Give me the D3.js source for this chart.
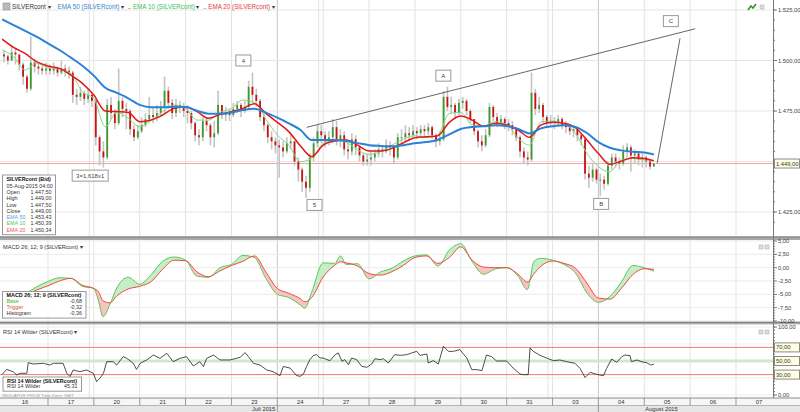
<!DOCTYPE html>
<html>
<head>
<meta charset="utf-8">
<script src="https://cdn.jsdelivr.net/npm/d3@7"></script>
<style>
  body { margin: 0; background: #fff; }
  svg text { font-family: "Liberation Sans", Arial, sans-serif; }
</style>
</head>
<body>
<div id="chart"></div>
<script>
// trading days on the time axis, Jul 16 - Aug 7 2015
const dayLabels = ["16","17","20","21","22","23","24","27","28","29","30","31","03","04","05","06","07"];
const weekStarts = [2, 7, 12];   // Mondays
const markerDays = [6, 13];

// 2-hour bars, 12 per day (last day: 00:00, 02:00, 04:00)
const barsPerDay = 12;
const firstOpen = 1503;
const closes = [
  1502, 1500, 1504, 1503, 1498, 1492, 1486, 1499, 1497, 1496, 1495, 1496,
  1495, 1496, 1494, 1496, 1495, 1494, 1483, 1482, 1484, 1481, 1483, 1480,
  1462, 1455, 1452, 1478, 1474, 1469, 1480, 1476, 1475, 1466, 1462, 1465,
  1468, 1471, 1473, 1472, 1474, 1477, 1485, 1479, 1474, 1478, 1477, 1475,
  1474, 1469, 1463, 1462, 1470, 1468, 1462, 1464, 1478, 1473, 1474, 1473,
  1476, 1478, 1475, 1477, 1487, 1483, 1480, 1472, 1468, 1462, 1460, 1458,
  1457, 1455, 1459, 1460, 1450, 1446, 1440, 1437, 1452, 1459, 1465, 1463,
  1460, 1462, 1467, 1460, 1463, 1456, 1455, 1461, 1457, 1453, 1450, 1451,
  1452, 1454, 1456, 1455, 1458, 1457, 1452, 1462, 1462, 1464, 1463, 1465,
  1464, 1466, 1465, 1467, 1463, 1460, 1461, 1482, 1477, 1478, 1474, 1479,
  1480, 1475, 1471, 1465, 1460, 1458, 1463, 1477, 1472, 1469, 1471, 1469,
  1468, 1466, 1462, 1455, 1452, 1451, 1484, 1476, 1478, 1472, 1469, 1470,
  1469, 1471, 1468, 1467, 1465, 1466, 1463, 1461, 1444, 1442, 1446, 1441,
  1441, 1439, 1448, 1452, 1450, 1449, 1455, 1457, 1453, 1454, 1451, 1452,
  1450, 1447.5, 1449
];
const highs = [
  1505, 1503, 1507, 1506, 1503, 1499, 1493, 1512, 1501, 1499, 1498, 1499,
  1498, 1499, 1497, 1500, 1498, 1497, 1495, 1486, 1487, 1485, 1486, 1484,
  1481, 1463, 1460, 1481, 1482, 1476, 1496, 1482, 1479, 1476, 1468, 1468,
  1472, 1474, 1482, 1477, 1478, 1480, 1492, 1487, 1481, 1481, 1480, 1479,
  1478, 1475, 1470, 1466, 1472, 1471, 1469, 1470, 1485, 1478, 1477, 1476,
  1479, 1480, 1479, 1480, 1490, 1494, 1486, 1481, 1474, 1469, 1465, 1462,
  1461, 1460, 1462, 1463, 1460, 1452, 1447, 1443, 1454, 1462, 1468, 1468,
  1465, 1465, 1471, 1470, 1466, 1465, 1459, 1464, 1463, 1458, 1454, 1454,
  1455, 1456, 1459, 1458, 1461, 1460, 1457, 1464, 1466, 1468, 1467, 1468,
  1467, 1468, 1468, 1469, 1468, 1464, 1465, 1485, 1487, 1482, 1479, 1481,
  1482, 1481, 1476, 1471, 1466, 1463, 1466, 1479, 1478, 1474, 1473, 1472,
  1471, 1470, 1467, 1463, 1457, 1455, 1494, 1486, 1482, 1479, 1473, 1473,
  1472, 1473, 1472, 1470, 1468, 1468, 1467, 1464, 1462, 1448, 1449, 1447,
  1444, 1443, 1450, 1454, 1454, 1452, 1458, 1459, 1458, 1456, 1455, 1454,
  1453, 1451, 1449
];
const lows = [
  1499, 1498, 1500, 1498, 1495, 1488, 1484, 1485, 1494, 1493, 1493, 1493,
  1493, 1493, 1492, 1493, 1492, 1491, 1479, 1478, 1480, 1478, 1479, 1477,
  1458, 1448, 1447, 1451, 1471, 1466, 1468, 1472, 1466, 1463, 1460, 1461,
  1464, 1467, 1469, 1469, 1470, 1472, 1474, 1476, 1471, 1472, 1474, 1472,
  1469, 1466, 1460, 1458, 1460, 1465, 1458, 1457, 1463, 1471, 1470, 1470,
  1472, 1474, 1472, 1474, 1476, 1479, 1477, 1470, 1465, 1459, 1456, 1454,
  1442, 1452, 1454, 1456, 1448, 1440, 1435, 1432, 1435, 1450, 1457, 1459,
  1457, 1458, 1459, 1458, 1457, 1453, 1451, 1453, 1453, 1450, 1448, 1448,
  1448, 1450, 1452, 1452, 1454, 1453, 1449, 1451, 1459, 1460, 1460, 1461,
  1461, 1462, 1462, 1463, 1461, 1457, 1458, 1460, 1475, 1474, 1471, 1473,
  1476, 1473, 1469, 1463, 1457, 1455, 1457, 1462, 1470, 1467, 1468, 1466,
  1465, 1463, 1460, 1452, 1449, 1448, 1450, 1473, 1474, 1469, 1467, 1467,
  1466, 1467, 1466, 1464, 1463, 1462, 1460, 1458, 1441, 1437, 1440, 1439,
  1433, 1436, 1438, 1446, 1447, 1446, 1448, 1452, 1445, 1449, 1448, 1447,
  1447, 1446, 1447.5
];

// moving averages read every 6 hours (day index), last point = last bar
const emaTimes = [
  0, 0.25, 0.5, 0.75, 1, 1.25, 1.5, 1.75, 2, 2.25, 2.5, 2.75, 3, 3.25, 3.5, 3.75,
  4, 4.25, 4.5, 4.75, 5, 5.25, 5.5, 5.75, 6, 6.25, 6.5, 6.75, 7, 7.25, 7.5, 7.75,
  8, 8.25, 8.5, 8.75, 9, 9.25, 9.5, 9.75, 10, 10.25, 10.5, 10.75, 11, 11.25, 11.5, 11.75,
  12, 12.25, 12.5, 12.75, 13, 13.25, 13.5, 13.75, 14, 14.21
];
const ema50 = [
  1520.4, 1517.5, 1514.7, 1511.8, 1508.5, 1505.2, 1501.4, 1497.4, 1492.5, 1486.5, 1484.0, 1481.3,
  1478.0, 1476.8, 1476.8, 1477.1, 1477.0, 1475.1, 1473.7, 1473.7, 1474.3, 1475.5, 1476.1, 1474.2,
  1471.7, 1468.9, 1465.7, 1460.6, 1460.6, 1460.6, 1460.1, 1459.1, 1458.1, 1457.7, 1457.5, 1458.1,
  1459.0, 1459.6, 1460.8, 1463.4, 1466.1, 1467.1, 1467.4, 1467.9, 1467.6, 1466.1, 1463.9, 1466.4,
  1467.4, 1467.9, 1467.1, 1464.1, 1459.6, 1456.8, 1455.5, 1454.8, 1454.5, 1453.43
];
const ema20 = [
  1510.6, 1506.5, 1503.5, 1499.4, 1497.3, 1496.1, 1492.8, 1488.7, 1482.9, 1475.0, 1474.7, 1474.3,
  1469.7, 1470.5, 1473.0, 1476.3, 1477.0, 1474.7, 1471.4, 1473.3, 1474.7, 1476.3, 1478.6, 1473.8,
  1469.4, 1464.8, 1457.8, 1452.4, 1458.1, 1460.1, 1460.6, 1458.1, 1455.2, 1455.2, 1456.5, 1459.3,
  1461.8, 1462.3, 1462.8, 1469.4, 1472.5, 1470.5, 1467.4, 1468.9, 1468.1, 1465.6, 1462.0, 1468.1,
  1469.4, 1468.9, 1466.7, 1460.6, 1454.0, 1448.6, 1450.2, 1451.9, 1451.5, 1450.34
];
const ema10 = [
  1505.2, 1501.9, 1495.3, 1498.6, 1496.4, 1495.8, 1493.6, 1484.5, 1481.2, 1467.2, 1474.3, 1471.4,
  1467.2, 1470.5, 1474.6, 1478.0, 1476.3, 1470.5, 1470.5, 1474.3, 1476.3, 1480.4, 1479.3, 1471.0,
  1463.1, 1458.1, 1449.9, 1451.5, 1459.0, 1460.6, 1459.5, 1455.7, 1453.5, 1454.9, 1458.1, 1461.1,
  1462.8, 1461.8, 1463.1, 1473.8, 1474.3, 1468.1, 1467.7, 1469.7, 1468.4, 1461.5, 1458.1, 1469.7,
  1470.0, 1468.7, 1463.9, 1454.0, 1447.4, 1444.9, 1450.7, 1451.5, 1450.7, 1450.39
];

// MACD 26;12;9
const macdTimes = [
  0, 0.25, 0.5, 0.75, 1, 1.25, 1.5, 1.75, 2, 2.1, 2.2, 2.35, 2.5, 2.75, 3, 3.25, 3.5, 3.75,
  4, 4.25, 4.5, 4.75, 5, 5.25, 5.5, 5.75, 6, 6.25, 6.5, 6.6, 6.75, 7, 7.25, 7.375, 7.5, 7.75,
  8, 8.25, 8.5, 8.75, 9, 9.25, 9.5, 9.75, 10, 10.25, 10.5, 10.75, 11, 11.25, 11.45, 11.6, 11.75,
  12, 12.25, 12.5, 12.75, 13, 13.25, 13.5, 13.75, 14, 14.21
];
const macdBase = [
  -6.8, -6.2, -5.0, -3.6, -2.6, -1.9, -2.0, -3.5, -3.9, -6.2, -9.2, -6.9, -3.8, -1.8, -3.1, -1.3, 1.2, 2.0,
  1.4, -1.6, -1.8, 0.0, 0.6, 2.3, 1.9, -2.0, -5.0, -5.6, -7.0, -7.6, -4.6, 0.9, 0.8, 2.2, 0.6, 0.75,
  -2.1, -0.8, -0.1, 1.25, 2.2, 2.4, 0.3, 3.3, 4.5, 1.1, -1.25, -0.25, 0.0, -1.6, -4.1, 1.25, 1.75,
  1.4, 0.6, -1.0, -4.75, -6.5, -5.4, -2.7, 0.4, 0.0, -0.68
];
const macdTrigger = [
  -6.3, -6.0, -5.2, -4.2, -3.4, -2.5, -2.0, -3.3, -3.9, -4.5, -6.2, -6.6, -5.3, -4.0, -3.5, -2.6, -0.3, 1.4,
  1.3, -0.8, -1.7, -0.6, 0.4, 1.2, 2.2, -0.8, -3.9, -4.8, -5.8, -6.4, -5.6, -1.75, 0.44, 1.1, 0.9, 0.3,
  -1.1, -1.4, -0.75, 0.44, 1.9, 2.2, 0.8, 1.9, 3.9, 1.4, 0.1, 0.0, 0.0, -1.25, -2.7, -1.1, 0.3,
  1.25, 0.8, -0.1, -2.9, -5.7, -5.9, -3.9, -1.3, -0.2, -0.32
];

// RSI 14 Wilder
const rsiTimes = [
  0, 0.1, 0.24, 0.32, 0.39, 0.54, 0.57, 0.68, 0.9, 1.04, 1.12, 1.33, 1.41, 1.48, 1.55, 1.7, 1.84, 1.99,
  2.06, 2.13, 2.21, 2.28, 2.42, 2.5, 2.64, 2.72, 2.86, 2.93, 3.01, 3.15, 3.3, 3.44, 3.59, 3.73, 3.88,
  4.02, 4.17, 4.31, 4.39, 4.46, 4.61, 4.75, 4.97, 5.19, 5.3, 5.37, 5.48, 5.62, 5.77, 5.91, 6.06, 6.13,
  6.28, 6.42, 6.5, 6.57, 6.64, 6.71, 6.79, 6.86, 6.93, 7.0, 7.08, 7.15, 7.26, 7.33, 7.41, 7.47, 7.55,
  7.62, 7.73, 7.84, 7.95, 8.06, 8.13, 8.24, 8.31, 8.42, 8.56, 8.68, 8.82, 8.93, 9.04, 9.11, 9.26, 9.29,
  9.4, 9.51, 9.62, 9.73, 9.84, 9.98, 10.13, 10.24, 10.35, 10.46, 10.56, 10.67, 10.78, 11.0, 11.14,
  11.29, 11.36, 11.47, 11.51, 11.58, 11.73, 11.87, 12.02, 12.16, 12.31, 12.49, 12.6, 12.71, 12.82,
  12.96, 13.11, 13.18, 13.29, 13.4, 13.51, 13.58, 13.69, 13.72, 13.84, 13.94, 14.05, 14.14, 14.21
];
const rsiValues = [
  30, 37.7, 34.3, 29.4, 31.9, 31.9, 47.5, 45.6, 46.6, 44.1, 46.6, 46.6, 32, 27, 36.8, 34.3, 36.8, 31.9,
  19.6, 24.5, 31.9, 49, 49, 44.1, 56.4, 53.9, 46.6, 37.7, 46.6, 51.5, 58.8, 53.9, 61.3, 49, 53.9,
  56.4, 42.6, 49, 41.7, 53.9, 58.8, 51.5, 51.5, 55.4, 62.3, 56.4, 46.6, 44.1, 36.8, 34.3, 28.5, 42,
  39.5, 28.5, 27.5, 30.9, 42.2, 52, 58.3, 59.3, 54.4, 54.4, 52, 50.5, 59.3, 61.8, 49.5, 52, 44.6,
  54.4, 52, 42.2, 40.7, 45.6, 53.4, 52, 53.4, 47.1, 59.3, 58.3, 59.3, 61.8, 64.2, 58.3, 60.3, 47.1,
  50.5, 45.6, 71.6, 64.2, 64.2, 66.7, 54.4, 37.3, 37.3, 35.8, 58.8, 56.4, 50, 50, 39.7,
  30.9, 29.9, 29.9, 69.1, 64.2, 58.3, 54.4, 50.5, 51.5, 49, 46.6, 39.2, 25.7, 33.3,
  30.4, 28.4, 39.2, 52.9, 48, 56.4, 58.8, 57.8, 49, 51.5, 49, 47.5, 44.1, 45.31
];

// axis ticks (labels hidden under the value boxes are left out)
const priceTicks = [1425, 1450, 1475, 1500, 1525];
const priceLabels = [1425, 1475, 1500, 1525];
const macdTicks = [-10, -7.5, -5, -2.5, 0, 2.5, 5];
const rsiTicks = [0, 25, 75, 100];
const rsiLabels = [0, 100];
const rsiLevels = [70, 50, 30];
const lastPrice = 1449;

// wave annotations: [day index, price, label]
const waveLabels = [[5.26, 1500, "4"], [1.92, 1443, "3=1,618x1"], [6.81, 1428.5, "5"],
                    [9.62, 1492.5, "A"], [13.06, 1429, "B"], [14.58, 1519.5, "C"]];
const trendLine = [[6.64, 1466.9], [15.11, 1515.7]];
const targetLine = [[14.28, 1449.1], [14.78, 1511]];

const W = 800, H = 412, plotRight = 773;
const fmt = d3.formatLocale({decimal: ",", thousands: ".", grouping: [3], currency: ["", ""], minus: "-"}).format(",.2f");

const svg = d3.select("#chart").append("svg").attr("width", W).attr("height", H);

const x = d3.scaleLinear().domain([0, 16.8]).range([2.1, 772.7]);
const yPrice = d3.scaleLinear().domain([1425, 1525]).range([212, 10]);
const yMacd = d3.scaleLinear().domain([-10, 5]).range([321, 241]);
const yRsi = d3.scaleLinear().domain([0, 100]).range([395, 327]);

const defs = svg.append("defs");
function clipRect(id, y0, y1) {
  defs.append("clipPath").attr("id", id).append("rect")
    .attr("x", 0).attr("y", y0).attr("width", plotRight).attr("height", y1 - y0);
}
clipRect("clipMain", 0, 237);
clipRect("clipMacd", 240, 322);
clipRect("clipRsi", 324, 398);

// ---- grid ----
const grid = svg.append("g");
d3.range(1, 17).forEach(d => {
  grid.append("line").attr("x1", x(d)).attr("x2", x(d)).attr("y1", 0).attr("y2", 398)
    .style("stroke", markerDays.includes(d) ? "#c4c4c4" : "#e2e2e2");
});
weekStarts.forEach(d => {
  grid.append("line").attr("x1", x(d) - 4.5).attr("x2", x(d) - 4.5).attr("y1", 0).attr("y2", 398)
    .style("stroke", "#e2e2e2");
});
priceTicks.forEach(v => grid.append("line").attr("x1", 0).attr("x2", plotRight)
  .attr("y1", yPrice(v)).attr("y2", yPrice(v)).style("stroke", "#e6e6e6"));
macdTicks.forEach(v => grid.append("line").attr("x1", 0).attr("x2", plotRight)
  .attr("y1", yMacd(v)).attr("y2", yMacd(v)).style("stroke", "#ebebeb"));
rsiTicks.forEach(v => grid.append("line").attr("x1", 0).attr("x2", plotRight)
  .attr("y1", yRsi(v)).attr("y2", yRsi(v)).style("stroke", "#ededed"));

// ---- main price panel ----
const main = svg.append("g").attr("clip-path", "url(#clipMain)");
main.append("line").attr("x1", 0).attr("x2", plotRight)
  .attr("y1", yPrice(lastPrice)).attr("y2", yPrice(lastPrice))
  .style("stroke", "#f4a4a4");

const candles = closes.map((c, i) => ({
  t: Math.floor(i / barsPerDay) + (i % barsPerDay + 0.5) / barsPerDay,
  o: i === 0 ? firstOpen : closes[i - 1],
  h: highs[i], l: lows[i], c: c
}));

main.selectAll(".wick").data(candles).enter().append("rect")
  .attr("x", d => x(d.t) - 0.8).attr("width", 1.6)
  .attr("y", d => yPrice(d.h)).attr("height", d => yPrice(d.l) - yPrice(d.h))
  .style("fill", "#c4c4c4");
main.selectAll(".body").data(candles).enter().append("rect")
  .attr("x", d => x(d.t) - 0.9).attr("width", 1.8)
  .attr("y", d => yPrice(Math.max(d.o, d.c)))
  .attr("height", d => Math.max(1, Math.abs(yPrice(d.o) - yPrice(d.c))))
  .style("fill", d => d.c >= d.o ? "#3d9a2b" : "#cc1111");

const emaLine = d3.line().x(d => x(d[0])).y(d => yPrice(d[1])).curve(d3.curveMonotoneX);
main.append("path").datum(emaTimes.map((t, i) => [t, ema10[i]])).attr("d", emaLine)
  .style("fill", "none").style("stroke", "#7fd98a").style("stroke-width", 1);
main.append("path").datum(emaTimes.map((t, i) => [t, ema20[i]])).attr("d", emaLine)
  .style("fill", "none").style("stroke", "#e41616").style("stroke-width", 1.5);
main.append("path").datum(emaTimes.map((t, i) => [t, ema50[i]])).attr("d", emaLine)
  .style("fill", "none").style("stroke", "#2a82d6").style("stroke-width", 2);

// wave drawing
const straight = d3.line().x(d => x(d[0])).y(d => yPrice(d[1]));
[trendLine, targetLine].forEach(l => main.append("path").datum(l).attr("d", straight)
  .style("stroke", "#555").style("stroke-width", 0.9).style("fill", "none"));
waveLabels.forEach(([t, p, label]) => {
  const w = label.length > 2 ? 36 : 15;
  const g = main.append("g").attr("transform", `translate(${x(t)},${yPrice(p)})`);
  g.append("rect").attr("x", -w / 2).attr("y", -5.5).attr("width", w).attr("height", 11)
    .style("fill", "#fff").style("stroke", "#999");
  g.append("text").attr("y", 2).attr("text-anchor", "middle").style("font-size", "6px")
    .style("fill", "#444").text(label);
});

// ---- MACD panel ----
const macdPts = macdTimes.map((t, i) => ({t: t, b: macdBase[i], s: macdTrigger[i]}));
const curve = d3.curveMonotoneX;
defs.append("clipPath").attr("id", "aboveTrig").append("path").datum(macdPts)
  .attr("d", d3.area().x(d => x(d.t)).y0(240).y1(d => yMacd(d.s)).curve(curve));
defs.append("clipPath").attr("id", "belowTrig").append("path").datum(macdPts)
  .attr("d", d3.area().x(d => x(d.t)).y0(322).y1(d => yMacd(d.s)).curve(curve));
const macdG = svg.append("g").attr("clip-path", "url(#clipMacd)");
const between = d3.area().x(d => x(d.t)).y0(d => yMacd(d.s)).y1(d => yMacd(d.b)).curve(curve);
macdG.append("g").attr("clip-path", "url(#aboveTrig)").append("path").datum(macdPts)
  .attr("d", between).style("fill", "#c6eec6");
macdG.append("g").attr("clip-path", "url(#belowTrig)").append("path").datum(macdPts)
  .attr("d", between).style("fill", "#f8c4c2");
macdG.append("path").datum(macdPts)
  .attr("d", d3.line().x(d => x(d.t)).y(d => yMacd(d.b)).curve(curve))
  .style("fill", "none").style("stroke", "#5cc65c").style("stroke-width", 1);
macdG.append("path").datum(macdPts)
  .attr("d", d3.line().x(d => x(d.t)).y(d => yMacd(d.s)).curve(curve))
  .style("fill", "none").style("stroke", "#ee4a40").style("stroke-width", 1);

// ---- RSI panel ----
const rsiG = svg.append("g").attr("clip-path", "url(#clipRsi)");
rsiLevels.forEach(v => rsiG.append("line").attr("x1", 0).attr("x2", plotRight)
  .attr("y1", yRsi(v)).attr("y2", yRsi(v))
  .style("stroke", v === 50 ? "#cfe8cf" : "#ef7b7b").style("stroke-width", v === 50 ? 3 : 1));
rsiG.append("path").datum(rsiTimes.map((t, i) => [t, rsiValues[i]]))
  .attr("d", d3.line().x(d => x(d[0])).y(d => yRsi(d[1])))
  .style("fill", "none").style("stroke", "#222").style("stroke-width", 0.8);

// ---- panel separators ----
[[236.5, 3.5], [321.8, 2.6]].forEach(([y, h]) => {
  svg.append("rect").attr("x", 0).attr("y", y).attr("width", W).attr("height", h).style("fill", "#a9a9a9");
  svg.append("line").attr("x1", 0).attr("x2", W).attr("y1", y + 0.5).attr("y2", y + 0.5).style("stroke", "#7a7a7a");
});

// ---- right value axis ----
svg.append("line").attr("x1", plotRight + 0.5).attr("x2", plotRight + 0.5).attr("y1", 0).attr("y2", 398)
  .style("stroke", "#777");
function axisLabels(scale, ticks, labels, y0, y1, minorStep) {
  const g = svg.append("g");
  d3.range(scale.domain()[0], scale.domain()[1] + 1e-9, minorStep).forEach(v => {
    const yy = scale(v);
    if (yy < y0 || yy > y1) return;
    g.append("line").attr("x1", plotRight).attr("x2", plotRight + 2).attr("y1", yy).attr("y2", yy).style("stroke", "#777");
  });
  ticks.forEach(v => {
    const yy = scale(v);
    g.append("line").attr("x1", plotRight).attr("x2", plotRight + 4).attr("y1", yy).attr("y2", yy).style("stroke", "#777");
  });
  labels.forEach(v => {
    g.append("text").attr("x", plotRight + 5).attr("y", scale(v) + 2).style("font-size", "5.8px")
      .style("fill", "#444").text(fmt(v));
  });
}
axisLabels(d3.scaleLinear().domain([1420, 1530]).range([yPrice(1420), yPrice(1530)]), priceTicks, priceLabels, 0, 236, 5);
axisLabels(yMacd, macdTicks, macdTicks, 240, 321, 0.5);
axisLabels(yRsi, [0, 25, 50, 75, 100], rsiLabels, 325, 397, 5);

function valueBox(yy, v) {
  svg.append("rect").attr("x", plotRight + 1.5).attr("y", yy - 4.5).attr("width", 25).attr("height", 9)
    .style("fill", "#ffffe1").style("stroke", "#8a8a8a");
  svg.append("text").attr("x", plotRight + 3).attr("y", yy + 2).style("font-size", "5.8px")
    .style("fill", "#333").text(fmt(v));
}
valueBox(yPrice(lastPrice), lastPrice);
rsiLevels.forEach(v => valueBox(yRsi(v), v));

// ---- time axis ----
svg.append("rect").attr("x", 0).attr("y", 398).attr("width", W).attr("height", 7.5).style("fill", "#f6f6f6");
svg.append("rect").attr("x", 0).attr("y", 405.5).attr("width", W).attr("height", 6.5).style("fill", "#e6e6e6");
svg.append("line").attr("x1", 0).attr("x2", W).attr("y1", 398).attr("y2", 398).style("stroke", "#8a8a8a");
svg.append("line").attr("x1", 0).attr("x2", W).attr("y1", 405.5).attr("y2", 405.5).style("stroke", "#b5b5b5");
d3.range(1, 17).forEach(d => svg.append("line").attr("x1", x(d)).attr("x2", x(d))
  .attr("y1", 398).attr("y2", markerDays.includes(d) ? 412 : 405.5).style("stroke", "#999"));
dayLabels.forEach((lab, d) => svg.append("text").attr("x", x(d + 0.5)).attr("y", 404)
  .attr("text-anchor", "middle").style("font-size", "5.8px").style("fill", "#333").text(lab));
svg.append("text").attr("x", x(6) - 2).attr("y", 411).attr("text-anchor", "end")
  .style("font-size", "5.8px").style("fill", "#333").text("Juli 2015");
svg.append("text").attr("x", x(14) + 1).attr("y", 411)
  .style("font-size", "5.8px").style("fill", "#333").text("August 2015");
svg.append("text").attr("x", 2).attr("y", 396.5).style("font-size", "4.3px").style("fill", "#9a9a9a")
  .text("INDICATIVE PRICE   Time Zone: GMT");

// ---- titles ----
const head = svg.append("text").attr("x", 12).attr("y", 9).style("font-size", "6.3px");
[["SILVERcont", "#333"], [" \u25BE    ", "#333"], ["EMA 50 (SILVERcont)", "#3a7fd0"], [" \u25BE  .. ", "#333"],
 ["EMA 10 (SILVERcont)", "#3cbf5a"], [" \u25BE  .. ", "#333"], ["EMA 20 (SILVERcont)", "#e23a3a"], [" \u25BE", "#333"]]
  .forEach(([s, c]) => head.append("tspan").style("fill", c).attr("xml:space", "preserve").text(s));
svg.append("rect").attr("x", 3).attr("y", 3).attr("width", 7).attr("height", 7)
  .style("fill", "#bbb").style("stroke", "#888").style("stroke-width", 0.5);
svg.append("text").attr("x", 3).attr("y", 249).style("font-size", "5.6px").style("fill", "#333")
  .text("MACD 26; 12; 9 (SILVERcont) \u25BE");
svg.append("text").attr("x", 3).attr("y", 334).style("font-size", "5.6px").style("fill", "#333")
  .text("RSI 14 Wilder (SILVERcont) \u25BE");
svg.append("path").attr("d", "M748,10 L751,6 L753,8 L756,4").style("fill", "none")
  .style("stroke", "#2a9a2a").style("stroke-width", 1.6);
[[760, 5], [759, 245], [765, 245], [759, 330], [765, 330]].forEach(([xx, yy]) =>
  svg.append("rect").attr("x", xx).attr("y", yy).attr("width", 4).attr("height", 4)
    .style("fill", "#ddd").style("stroke", "#aaa").style("stroke-width", 0.5));

// ---- data boxes ----
function infoBox(x0, y0, w, rows, rowH) {
  svg.append("rect").attr("x", x0).attr("y", y0).attr("width", w).attr("height", rows.length * rowH + 3)
    .style("fill", "#fff").style("fill-opacity", 0.92).style("stroke", "#999");
  rows.forEach(([label, value, color, bold], i) => {
    const yy = y0 + rowH * (i + 1);
    svg.append("text").attr("x", x0 + 4).attr("y", yy).style("font-size", "5.4px")
      .style("font-weight", bold ? "bold" : "normal").style("fill", color || "#333").text(label);
    if (value !== null) svg.append("text").attr("x", x0 + w - 4).attr("y", yy).attr("text-anchor", "end")
      .style("font-size", "5.4px").style("fill", "#333").text(value);
  });
}
const last = candles[candles.length - 1];
infoBox(2.5, 175, 53, [
  ["SILVERcont (Bid)", null, "#111", true],
  ["05-Aug-2015 04:00", null],
  ["Open", fmt(last.o)], ["High", fmt(last.h)], ["Low", fmt(last.l)], ["Close", fmt(last.c)],
  ["EMA 50", fmt(ema50[ema50.length - 1]), "#5a9ee0"],
  ["EMA 10", fmt(ema10[ema10.length - 1]), "#4cc96a"],
  ["EMA 20", fmt(ema20[ema20.length - 1]), "#ee5a5a"]
], 6.3);
const lb = macdBase[macdBase.length - 1], lt = macdTrigger[macdTrigger.length - 1];
infoBox(2.5, 291.5, 83.5, [
  ["MACD 26; 12; 9 (SILVERcont)", null, "#111", true],
  ["Base", fmt(lb), "#3fb53f"], ["Trigger", fmt(lt), "#e6463c"], ["Histogram", fmt(lb - lt)]
], 5.9);
infoBox(3, 377, 78.5, [
  ["RSI 14 Wilder (SILVERcont)", null, "#111", true],
  ["RSI 14 Wilder", fmt(rsiValues[rsiValues.length - 1])]
], 5.6);
</script>
</body>
</html>
